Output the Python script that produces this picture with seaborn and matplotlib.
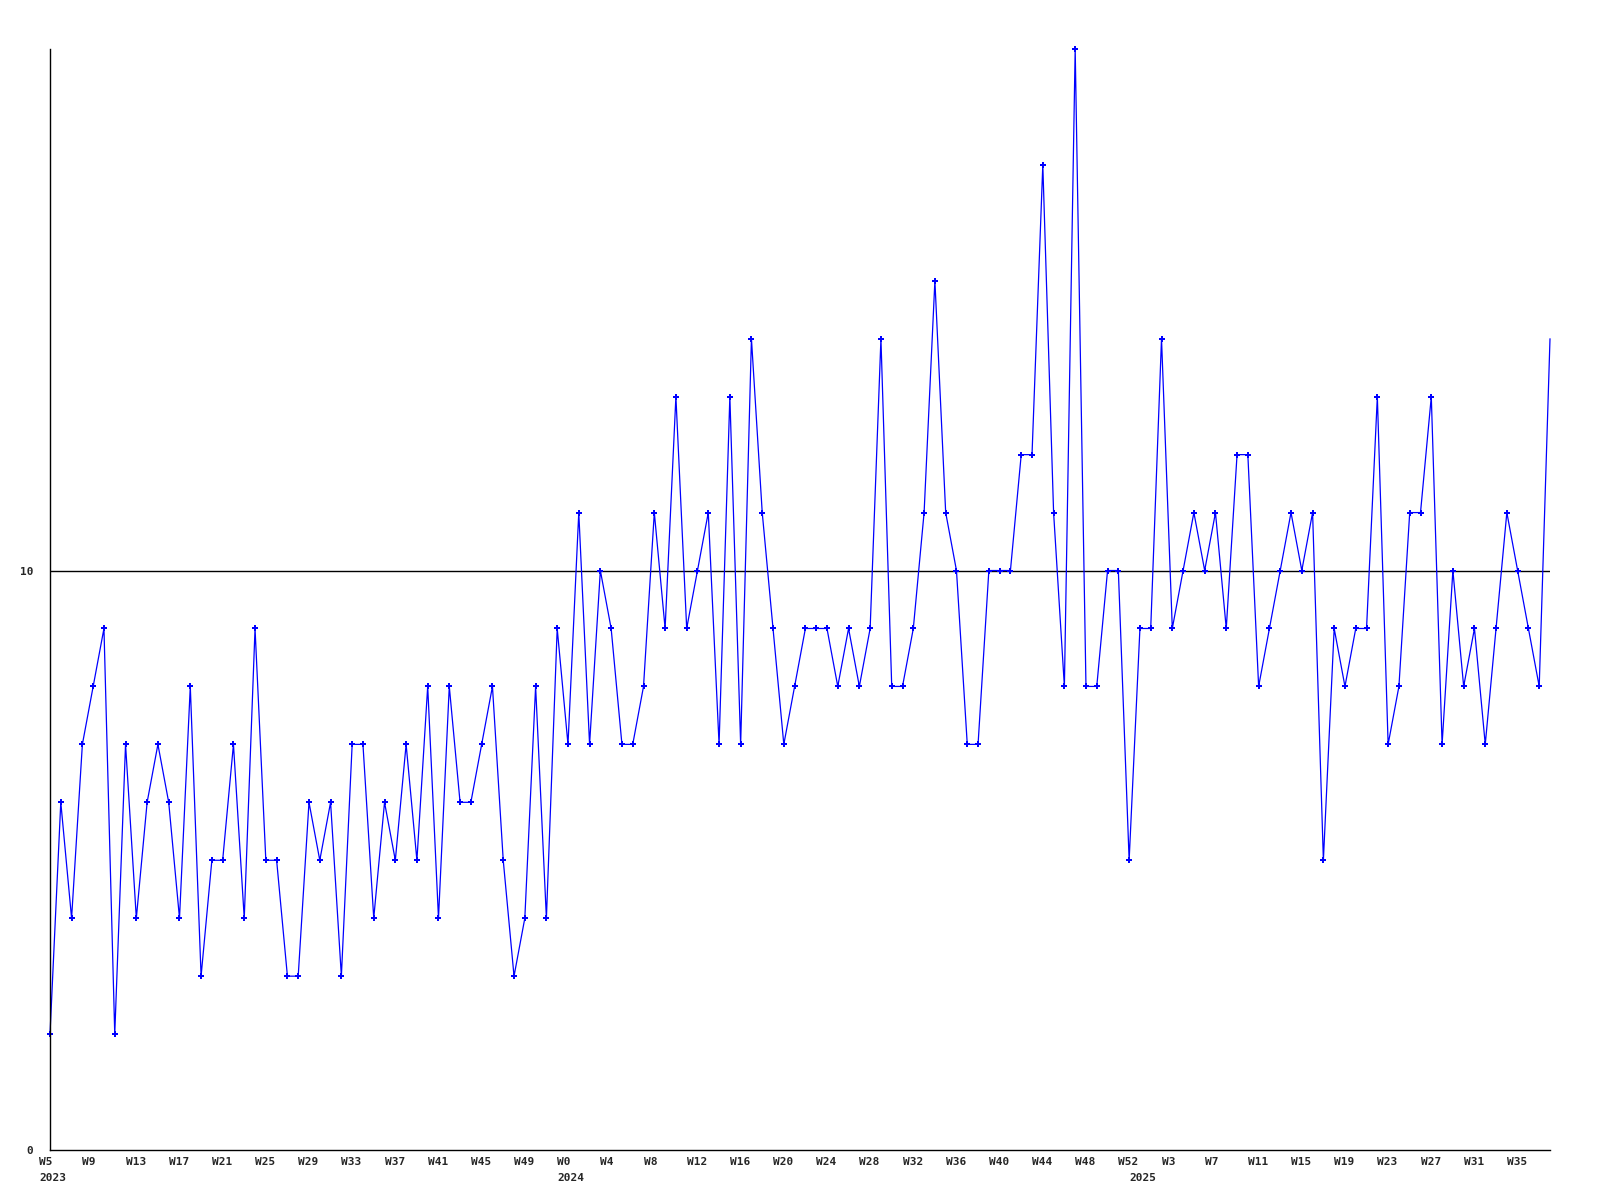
#Weekly count chart, 2023 W5 - 2025 W35
#Line plot of weekly values with a reference line at 10

import numpy as np
import pandas as pd
import matplotlib
matplotlib.use("Agg")
import matplotlib.pyplot as plt
import seaborn as sns

#weekly values
values = [2, 6, 4, 7, 8, 9, 2, 7, 4, 6, 7, 6, 4, 8, 3, 5, 5, 7, 4, 9,
          5, 5, 3, 3, 6, 5, 6, 3, 7, 7, 4, 6, 5, 7, 5, 8, 4, 8, 6, 6,
          7, 8, 5, 3, 4, 8, 4, 9, 7, 11, 7, 10, 9, 7, 7, 8, 11, 9, 13, 9,
          10, 11, 7, 13, 7, 14, 11, 9, 7, 8, 9, 9, 9, 8, 9, 8, 9, 14, 8, 8,
          9, 11, 15, 11, 10, 7, 7, 10, 10, 10, 12, 12, 17, 11, 8, 19, 8, 8, 10, 10,
          5, 9, 9, 14, 9, 10, 11, 10, 11, 9, 12, 12, 8, 9, 10, 11, 10, 11, 5, 9,
          8, 9, 9, 13, 7, 8, 11, 11, 13, 7, 10, 8, 9, 7, 9, 11, 10, 9, 8, 14]

week_labels = ["W5", "W9", "W13", "W17", "W21", "W25", "W29", "W33", "W37", "W41", "W45", "W49",
               "W0", "W4", "W8", "W12", "W16", "W20", "W24", "W28", "W32", "W36", "W40", "W44", "W48", "W52",
               "W3", "W7", "W11", "W15", "W19", "W23", "W27", "W31", "W35"]
year_labels = ["2023", "2024", "2025"]
year_first_week = [0, 48, 101]   # index of first week of each year in the series
ref_value = 10

df = pd.DataFrame({"week": np.arange(len(values)), "value": values})

sns.set_style("white")
plt.rcParams["font.family"] = ["DejaVu Sans Mono", "DejaVu Sans"]
plt.rcParams["font.weight"] = "bold"

fig = plt.figure(figsize=(16, 12), dpi=100)
ax = fig.add_axes([50 / 1600, 50 / 1200, 1500 / 1600, 1101 / 1200])

sns.lineplot(data=df, x="week", y="value", ax=ax, color="#0000ff", lw=0.9,
             marker="P", markersize=4, markeredgewidth=0,
             markevery=list(range(len(values) - 1)))
for ln in ax.lines:
    ln.set_clip_on(False)

ax.axhline(ref_value, color="black", lw=1.0, zorder=1)

ax.set_xticks([])
ax.set_yticks([0, 10])
ax.set_yticklabels(["0", "10"], fontsize=8, fontweight="bold")
ax.tick_params(axis="y", length=0, pad=12)
ax.set_xlim(0, len(values) - 1)
ax.set_ylim(0, 19)

#week labels sit left-aligned one week before the week they name
trans = ax.get_xaxis_transform()
for i, lab in enumerate(week_labels):
    ax.text(i * 4 - 1, -0.006, lab, transform=trans, ha="left", va="top",
            fontsize=8, fontweight="bold", clip_on=False)
for lab, pos in zip(year_labels, year_first_week):
    ax.text(pos - 1, -0.021, lab, transform=trans, ha="left", va="top",
            fontsize=8, fontweight="bold", clip_on=False)

for s in ["top", "right"]:
    ax.spines[s].set_visible(False)
for s in ["left", "bottom"]:
    ax.spines[s].set_color("black")
    ax.spines[s].set_linewidth(1.0)

ax.set_xlabel("")
ax.set_ylabel("")
ax.grid(False)

plt.savefig("out.png", dpi=100)
